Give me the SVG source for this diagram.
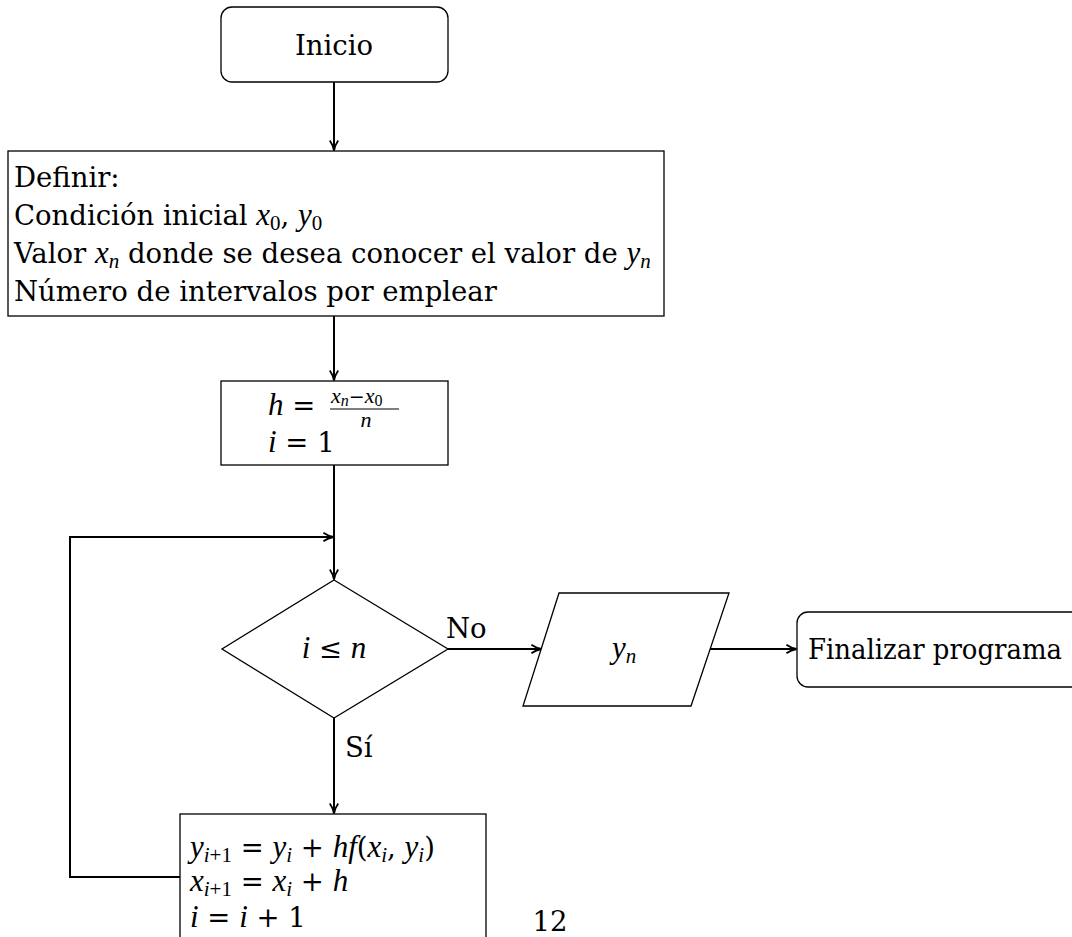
<svg xmlns="http://www.w3.org/2000/svg" width="1072" height="937" viewBox="0 0 1072 937">
<style>
.n{fill:#fff;stroke:#000;stroke-width:1.3}
.c{fill:none;stroke:#000;stroke-width:2}
text{font-family:"DejaVu Serif","Liberation Serif",serif;font-size:27.5px;fill:#000}
.i{font-family:"Liberation Serif","DejaVu Serif",serif;font-style:italic;font-size:31px}
.s{font-family:"Liberation Serif","DejaVu Serif",serif;font-size:21px}
</style>
<defs>
<marker id="a" viewBox="0 0 10 10" refX="9" refY="5" markerWidth="12" markerHeight="12" orient="auto" markerUnits="userSpaceOnUse">
<path d="M1,1.5 Q5,4.3 9.5,5 Q5,5.7 1,8.5" fill="none" stroke="#000" stroke-width="1.5"/>
</marker>
</defs>
<g id="connectors">
<line class="c" x1="334" y1="82" x2="334" y2="150" marker-end="url(#a)"/>
<line class="c" x1="334" y1="316" x2="334" y2="380" marker-end="url(#a)"/>
<line class="c" x1="334" y1="465" x2="334" y2="579" marker-end="url(#a)"/>
<polyline class="c" points="180,877 70,877 70,537 333,537" marker-end="url(#a)"/>
<line class="c" x1="448" y1="649" x2="541" y2="649" marker-end="url(#a)"/>
<line class="c" x1="710" y1="649" x2="796" y2="649" marker-end="url(#a)"/>
<line class="c" x1="334" y1="718" x2="334" y2="813" marker-end="url(#a)"/>
<text x="446" y="638">No</text>
<text x="345" y="757">Sí</text>
</g>
<g id="inicio">
<rect class="n" x="221" y="7" width="227" height="75" rx="11"/>
<text x="334" y="55" text-anchor="middle">Inicio</text>
</g>
<g id="definir">
<rect class="n" x="8" y="151" width="656" height="165"/>
<text x="14" y="187">Definir:</text>
<text x="14" y="225">Condición inicial <tspan class="i">x</tspan><tspan class="s" dy="5">0</tspan><tspan dy="-5">, </tspan><tspan class="i">y</tspan><tspan class="s" dy="5">0</tspan></text>
<text x="14" y="263">Valor <tspan class="i">x</tspan><tspan class="s i" style="font-size:21px" dy="5">n</tspan><tspan dy="-5"> donde se desea conocer el valor de </tspan><tspan class="i">y</tspan><tspan class="s i" style="font-size:21px" dy="5">n</tspan></text>
<text x="14" y="301">Número de intervalos por emplear</text>
</g>
<g id="paso">
<rect class="n" x="221" y="381" width="227" height="84"/>
<text x="268" y="415"><tspan class="i">h</tspan> = </text>
<text x="331" y="403" style="font-size:19px"><tspan class="i" style="font-size:22px">x</tspan><tspan class="i" style="font-size:16px" dy="3">n</tspan><tspan dy="-3">−</tspan><tspan class="i" style="font-size:22px">x</tspan><tspan class="s" style="font-size:16px" dy="3">0</tspan></text>
<line x1="330" y1="409" x2="399" y2="409" stroke="#000" stroke-width="1.2"/>
<text x="366" y="427" class="i" style="font-size:22px" text-anchor="middle">n</text>
<text x="268" y="452"><tspan class="i">i</tspan> = 1</text>
</g>
<g id="decision">
<polygon class="n" points="334,580 448,649 334,718 222,649"/>
<text x="334" y="658" text-anchor="middle"><tspan class="i">i</tspan> ≤ <tspan class="i">n</tspan></text>
</g>
<g id="salida">
<polygon class="n" points="559,593 729,593 691,706 523,706"/>
<text x="612" y="658"><tspan class="i">y</tspan><tspan class="s i" style="font-size:21px" dy="5">n</tspan></text>
</g>
<g id="fin">
<rect class="n" x="797" y="612" width="290" height="75" rx="11"/>
<text x="808" y="659" textLength="254" lengthAdjust="spacingAndGlyphs">Finalizar programa</text>
</g>
<g id="iteracion">
<rect class="n" x="180" y="814" width="306" height="140"/>
<text x="190" y="857"><tspan class="i">y</tspan><tspan class="s" dy="5"><tspan class="i" style="font-size:21px">i</tspan>+1</tspan><tspan dy="-5"> = </tspan><tspan class="i">y</tspan><tspan class="s i" style="font-size:21px" dy="5">i</tspan><tspan dy="-5"> + </tspan><tspan class="i">hf</tspan>(<tspan class="i">x</tspan><tspan class="s i" style="font-size:21px" dy="5">i</tspan><tspan dy="-5">, </tspan><tspan class="i">y</tspan><tspan class="s i" style="font-size:21px" dy="5">i</tspan><tspan dy="-5">)</tspan></text>
<text x="190" y="891"><tspan class="i">x</tspan><tspan class="s" dy="5"><tspan class="i" style="font-size:21px">i</tspan>+1</tspan><tspan dy="-5"> = </tspan><tspan class="i">x</tspan><tspan class="s i" style="font-size:21px" dy="5">i</tspan><tspan dy="-5"> + </tspan><tspan class="i">h</tspan></text>
<text x="190" y="927"><tspan class="i">i</tspan> = <tspan class="i">i</tspan> + 1</text>
</g>
<text x="550" y="931" text-anchor="middle">12</text>
</svg>
